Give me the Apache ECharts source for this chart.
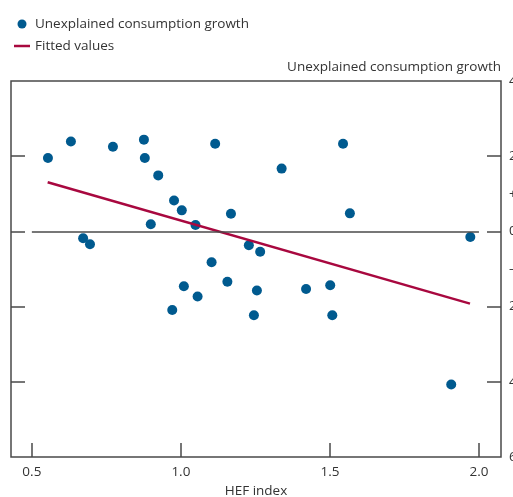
<!DOCTYPE html>
<html>
<head>
<meta charset="utf-8">
<script src="https://cdn.jsdelivr.net/npm/echarts@6/dist/echarts.min.js"></script>
<style>html,body{margin:0;padding:0;background:#fff;}#chart{width:513px;height:497px;}</style>
</head>
<body>
<div id="chart"></div>
<script>
// HEF index (x) and unexplained consumption growth (y)
const hefIndex = [0.554, 0.631, 0.772, 0.876, 0.879, 0.924, 1.115, 1.338, 1.544, 0.977, 1.003, 0.899, 1.049, 1.168, 1.567,
  0.672, 0.695, 1.971, 1.103, 1.228, 1.266, 1.010, 1.056, 0.971, 1.156, 1.255, 1.245, 1.420, 1.501, 1.508, 1.907];
const unexplainedGrowth = [1.95, 2.39, 2.25, 2.44, 1.95, 1.49, 2.33, 1.67, 2.33, 0.82, 0.56, 0.19, 0.17, 0.47, 0.48,
  -0.18, -0.34, -0.15, -0.82, -0.37, -0.54, -1.46, -1.73, -2.09, -1.34, -1.57, -2.23, -1.53, -1.43, -2.23, -4.07];
const fittedX = [0.553, 1.970];
const fittedY = [1.307, -1.92];
const xTickValues = [0.5, 1.0, 1.5, 2.0];
const yTickValues = [-4, -2, 0, 2];
const yLabelValues = [-6, -4, -2, -1, 0, 1, 2, 4];
const zeroLineX = [0.5, 2.0];

const font = 'Open Sans';
const fs = 13.5;
const txt = '#333333';
const axisCol = '#4a4a4a';

const chart = echarts.init(document.getElementById('chart'));
chart.setOption({
  animation: false,
  textStyle: { fontFamily: font },
  legend: {
    orient: 'vertical', left: 9, top: 11, itemGap: 6, itemWidth: 16, itemHeight: 9,
    textStyle: { fontFamily: font, fontSize: fs, color: txt, lineHeight: 16 },
    data: [
      { name: 'Unexplained consumption growth', icon: 'circle' },
      { name: 'Fitted values', icon: 'path://M0,0 L16,0 L16,2.5 L0,2.5 Z' }
    ]
  },
  grid: { left: 11, right: 12, top: 81, bottom: 40, containLabel: false, outerBoundsMode: 'none',
    show: true, borderColor: axisCol, borderWidth: 1.5, backgroundColor: 'transparent' },
  xAxis: {
    type: 'value', min: 0.43, max: 2.074,
    name: 'HEF index', nameLocation: 'middle', nameGap: 26,
    nameTextStyle: { fontFamily: font, fontSize: fs, color: txt },
    axisLine: { show: false, onZero: false },
    axisTick: { show: true, inside: true, length: 14, customValues: xTickValues, lineStyle: { color: axisCol, width: 1.5 } },
    axisLabel: { show: true, customValues: xTickValues, margin: 8, fontFamily: font, fontSize: fs, color: txt,
      formatter: v => v.toFixed(1) },
    splitLine: { show: false }
  },
  yAxis: [
    {
      type: 'value', position: 'right', min: -6, max: 4,
      name: 'Unexplained consumption growth', nameLocation: 'end', nameGap: 7,
      nameTextStyle: { fontFamily: font, fontSize: fs, color: txt, align: 'right' },
      axisLine: { show: false, onZero: false },
      axisTick: { show: true, inside: true, length: 14, customValues: yTickValues, lineStyle: { color: axisCol, width: 1.5 } },
      axisLabel: { show: true, customValues: yLabelValues, margin: 8, fontFamily: font, fontSize: fs, color: txt,
        formatter: v => v === 1 ? '+' : (v === -1 ? '–' : String(Math.abs(v))) },
      splitLine: { show: false }
    },
    {
      type: 'value', position: 'left', min: -6, max: 4,
      axisLine: { show: false, onZero: false },
      axisTick: { show: true, inside: true, length: 14, customValues: yTickValues, lineStyle: { color: axisCol, width: 1.5 } },
      axisLabel: { show: false },
      splitLine: { show: false }
    }
  ],
  series: [
    {
      name: 'Unexplained consumption growth', type: 'scatter', symbolSize: 10,
      itemStyle: { color: '#005A8F', opacity: 1 },
      data: hefIndex.map((x, i) => [x, unexplainedGrowth[i]]),
      markLine: {
        silent: true, symbol: 'none', label: { show: false },
        lineStyle: { color: axisCol, width: 1.5, type: 'solid' },
        data: [[{ coord: [zeroLineX[0], 0] }, { coord: [zeroLineX[1], 0] }]]
      },
      z: 3
    },
    {
      name: 'Fitted values', type: 'line', symbol: 'none',
      lineStyle: { color: '#A8083F', width: 2.5 }, itemStyle: { color: '#A8083F' },
      data: fittedX.map((x, i) => [x, fittedY[i]]),
      z: 4
    }
  ]
});
</script>
</body>
</html>
